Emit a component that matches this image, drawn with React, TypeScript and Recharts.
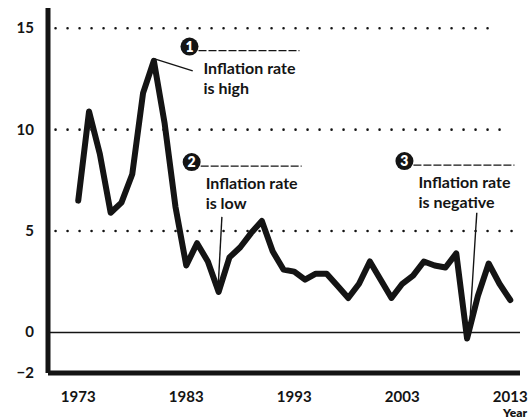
import { LineChart, Line, XAxis, YAxis, ReferenceLine, ReferenceDot } from 'recharts'

// annual inflation rate
const years = [
  1973, 1974, 1975, 1976, 1977, 1978, 1979, 1980, 1981, 1982,
  1983, 1984, 1985, 1986, 1987, 1988, 1989, 1990, 1991, 1992,
  1993, 1994, 1995, 1996, 1997, 1998, 1999, 2000, 2001, 2002,
  2003, 2004, 2005, 2006, 2007, 2008, 2009, 2010, 2011, 2012, 2013,
]
const inflation = [
  6.5, 10.9, 8.8, 5.9, 6.4, 7.8, 11.8, 13.4, 10.3, 6.2,
  3.3, 4.4, 3.5, 2.0, 3.7, 4.2, 4.9, 5.5, 4.0, 3.1,
  3.0, 2.6, 2.9, 2.9, 2.3, 1.7, 2.4, 3.5, 2.6, 1.7,
  2.4, 2.8, 3.5, 3.3, 3.2, 3.9, -0.3, 1.8, 3.4, 2.4, 1.6,
]
const yTicks = [-2, 0, 5, 10, 15]
const xTicks = [1973, 1983, 1993, 2003, 2013]
const dottedLevels = [15, 10, 5]
const dottedEnds = [2012, 2013, 2013.9]

const notes = [
  { n: '1', x: 1983.3, y: 14.1, lines: ['Inflation rate', 'is high'], from: [1980, 13.5], to: [1983.6, 12.9] },
  { n: '2', x: 1983.5, y: 8.4, lines: ['Inflation rate', 'is low'], from: [1986.3, 5.7], to: [1985.95, 2.2] },
  { n: '3', x: 2003.2, y: 8.45, lines: ['Inflation rate', 'is negative'], from: [2009.9, 5.9], to: [2009.2, 0.0] },
]

const data = years.map((year, i) => ({ year, value: inflation[i] }))

const font = 'Lato, "Open Sans", sans-serif'
const ink = '#141414'

function Note({ cx, cy, n, lines }: any) {
  return (
    <g>
      <circle cx={cx} cy={cy} r={9} fill={ink} />
      <text x={cx} y={cy + 5} textAnchor='middle' fill='#fff' fontSize={14} fontWeight={800} fontFamily={font}>
        {n}
      </text>
      <line x1={cx + 9} y1={cy + 4} x2={cx + 110} y2={cy + 4} stroke={ink} strokeWidth={1.3} strokeDasharray='8 2' />
      {lines.map((t: string, i: number) => (
        <text key={t} x={cx + 14} y={cy + 27 + i * 20} fill={ink} fontSize={16} fontWeight={700} fontFamily={font}>
          {t}
        </text>
      ))}
    </g>
  )
}

export default function App() {
  return (
    <div style={{ position: 'absolute', top: 0, left: 0, background: '#fff' }}>
      <LineChart width={528} height={419} data={data} margin={{ top: 8, right: 8, bottom: 16, left: 0 }}>
        <XAxis
          dataKey='year'
          type='number'
          domain={[1970.2, 2013.9]}
          ticks={xTicks}
          allowDataOverflow
          height={30}
          stroke={ink}
          strokeWidth={5}
          tickLine={false}
          tick={({ x, y, payload }: any) => (
            <text x={x} y={y + 21} textAnchor='middle' fill={ink} fontSize={15} fontWeight={700} fontFamily={font}>
              {payload.value}
            </text>
          )}
          label={{
            content: ({ viewBox }: any) => (
              <text x={viewBox.x + viewBox.width + 7} y={viewBox.y + 44} textAnchor='end' fill={ink} fontSize={12} fontWeight={800} fontFamily={font}>
                Year
              </text>
            ),
          }}
        />
        <YAxis
          type='number'
          domain={[-2, 16]}
          ticks={yTicks}
          width={48}
          stroke={ink}
          strokeWidth={5}
          tickLine={false}
          tick={({ y, payload }: any) => (
            <text x={34} y={y + 5} textAnchor='end' fill={ink} fontSize={15} fontWeight={700} fontFamily={font}>
              {payload.value < 0 ? '\u2212' + Math.abs(payload.value) : payload.value}
            </text>
          )}
        />
        {dottedLevels.map((lv, i) => (
          <ReferenceLine
            key={lv}
            segment={[{ x: 1970.9, y: lv }, { x: dottedEnds[i], y: lv }]}
            stroke={ink}
            strokeWidth={2.6}
            strokeDasharray='0 12'
            strokeLinecap='round'
          />
        ))}
        <ReferenceLine y={0} stroke={ink} strokeWidth={1.5} />
        {notes.map((a) => (
          <ReferenceLine
            key={'l' + a.n}
            segment={[{ x: a.from[0], y: a.from[1] }, { x: a.to[0], y: a.to[1] }]}
            stroke={ink}
            strokeWidth={1.4}
          />
        ))}
        <Line
          type='linear'
          dataKey='value'
          stroke={ink}
          strokeWidth={6}
          strokeLinejoin='round'
          strokeLinecap='round'
          dot={false}
          isAnimationActive={false}
        />
        {notes.map((a) => (
          <ReferenceDot
            key={'d' + a.n}
            x={a.x}
            y={a.y}
            r={8}
            shape={(p: any) => <Note cx={p.cx} cy={p.cy} n={a.n} lines={a.lines} />}
          />
        ))}
      </LineChart>
    </div>
  )
}
